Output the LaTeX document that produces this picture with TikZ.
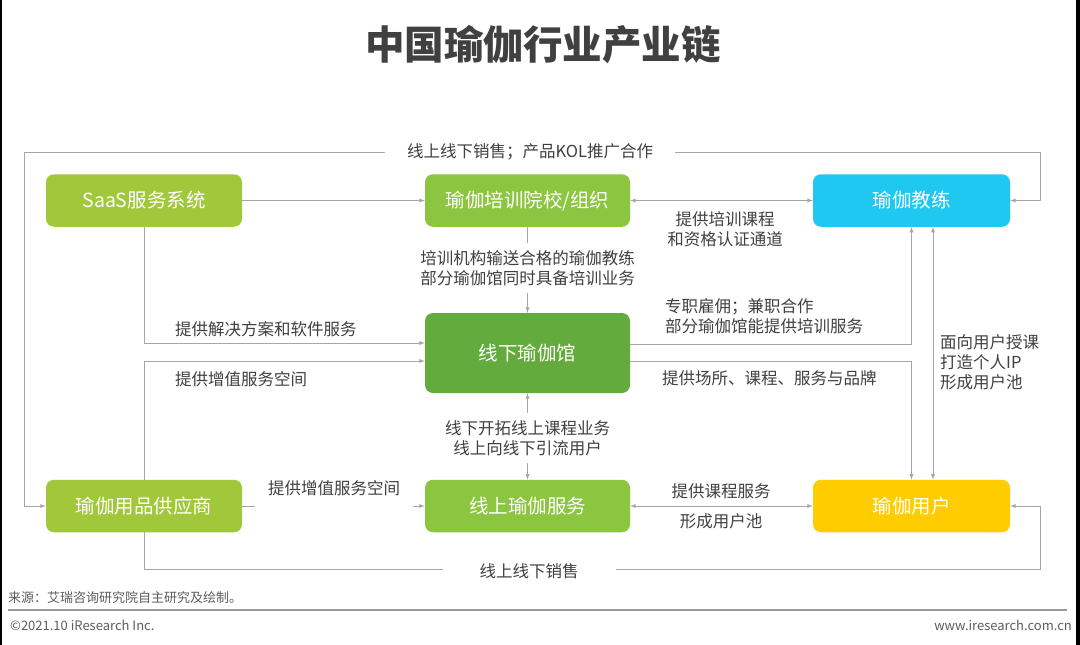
\documentclass[tikz,border=0pt]{standalone}
\usepackage{fontspec}
\setmainfont{Noto Sans CJK SC}
\usetikzlibrary{calc}

\definecolor{txtgray}{HTML}{404040}
\definecolor{linegray}{HTML}{A6A6A6}
\definecolor{limegreen}{HTML}{A0C83A}
\definecolor{leafgreen}{HTML}{8CC540}
\definecolor{deepgreen}{HTML}{62AB3C}
\definecolor{skyblue}{HTML}{1EC8F0}
\definecolor{sunyellow}{HTML}{FFCC00}

\tikzset{
  box/.style={rounded corners=8pt, text=white, font=\fontsize{19.5}{22}\selectfont,
    inner sep=0pt, minimum height=52.5pt},
  conn/.style={draw=linegray, line width=0.9pt},
  lbl/.style={text=txtgray, font=\fontsize{16.5}{20}\selectfont, inner sep=0pt, align=left},
  gaplbl/.style={lbl, fill=white, align=center},
}

\begin{document}
\begin{tikzpicture}[x=1pt,y=-1pt]
\useasboundingbox (0,0) rectangle (1080,645);
\fill[white] (0,0) rectangle (1080,645);
\fill[black] (0,0) rectangle (1.8,645);
\fill[black] (1075.5,0) rectangle (1080,645);

\node[text=txtgray, font=\fontsize{39.5}{42}\selectfont\bfseries] (title) at (543,45) {中国瑜伽行业产业链};

% boxes
\node[box, fill=limegreen, minimum width=196pt] (saas) at (144,200.5) {SaaS服务系统};
\node[box, fill=leafgreen, minimum width=205pt] (school) at (527.5,200.5) {瑜伽培训院校/组织};
\node[box, fill=skyblue, minimum width=197pt] (coach) at (911.5,200.5) {瑜伽教练};
\node[box, fill=deepgreen, minimum width=205pt, minimum height=80pt] (studio) at (527.5,353) {线下瑜伽馆};
\node[box, fill=limegreen, minimum width=196pt] (supplier) at (144,506) {瑜伽用品供应商};
\node[box, fill=leafgreen, minimum width=205pt] (online) at (527.5,506) {线上瑜伽服务};
\node[box, fill=sunyellow, minimum width=197pt] (user) at (911.5,506) {瑜伽用户};

% outer loops
\draw[conn,latex-latex] (supplier.west) -- ++(-21,0) |- (1040,152) |- (coach.east);
\node[gaplbl, inner xsep=22pt, inner ysep=3pt] (toplbl) at (530,152) {线上线下销售；产品KOL推广合作};

\draw[conn,-latex] (supplier.south) |- (1040,569) |- (user.east);
\node[gaplbl, inner xsep=37pt, inner ysep=3pt] (botlbl) at (529,571) {线上线下销售};

% first row
\draw[conn,-latex] (saas) -- (school);
\draw[conn,latex-latex] (school) -- (coach);
\node[lbl, align=center] (trainlbl) at (725,229) {提供培训课程\\和资格认证通道};

% middle column
\draw[conn,-latex] (school) -- (studio);
\node[gaplbl, inner ysep=7pt, inner xsep=4pt] (sendlbl) at (527.5,268) {培训机构输送合格的瑜伽教练\\部分瑜伽馆同时具备培训业务};

\draw[conn,latex-latex] (studio) -- (online);
\node[gaplbl, inner ysep=7pt, inner xsep=4pt] (o2olbl) at (527.5,438) {线下开拓线上课程业务\\线上向线下引流用户};

% left side into the studio
\draw[conn,-latex] (saas.south) |- ($ (studio.west) + (0,-10) $);
\node[lbl, anchor=west] (softlbl) at (175,329) {提供解决方案和软件服务};
\draw[conn,-latex] (supplier.north) |- ($ (studio.west) + (0,8) $);
\node[lbl, anchor=west] (spacelbl) at (175,379) {提供增值服务空间};

% bottom row
\draw[conn,-latex] (supplier) -- (online);
\node[lbl, fill=white, anchor=base, text depth=17pt, text height=13pt, inner xsep=13pt] (space2lbl) at (334,494) {提供增值服务空间};
\draw[conn,latex-latex] (online) -- (user);
\node[lbl] (courselbl) at (721,491) {提供课程服务};
\node[lbl] (poollbl) at (721,521) {形成用户池};

% studio to coach and user
\draw[conn,-latex] ($ (studio.east) + (0,-9) $) -| (coach.south);
\node[lbl, anchor=west] (hirelbl) at (665,316) {专职雇佣；兼职合作\\部分瑜伽馆能提供培训服务};
\draw[conn,-latex] ($ (studio.east) + (0,8) $) -| (user.north);
\node[lbl, anchor=west] (brandlbl) at (662,378) {提供场所、课程、服务与品牌};

\draw[conn,latex-latex] ($ (coach.south) + (21.5,0) $) -- ($ (user.north) + (21.5,0) $);
\node[lbl, anchor=west] (iplbl) at (940,362) {面向用户授课\\打造个人IP\\形成用户池};

% footer
\node[text=txtgray!85, font=\fontsize{13}{15}\selectfont, anchor=west, inner sep=0pt] (src) at (8,598) {来源：艾瑞咨询研究院自主研究及绘制。};
\draw[draw=gray!80, line width=1.5pt] (8,610) -- (1067,610);
\node[text=txtgray!85, font=\fontsize{13}{15}\selectfont, anchor=west, inner sep=0pt] (copy) at (10,625) {©2021.10 iResearch Inc.};
\node[text=txtgray!85, font=\fontsize{13}{15}\selectfont, anchor=east, inner sep=0pt] (web) at (1072,625) {www.iresearch.com.cn};

\end{tikzpicture}
\end{document}
